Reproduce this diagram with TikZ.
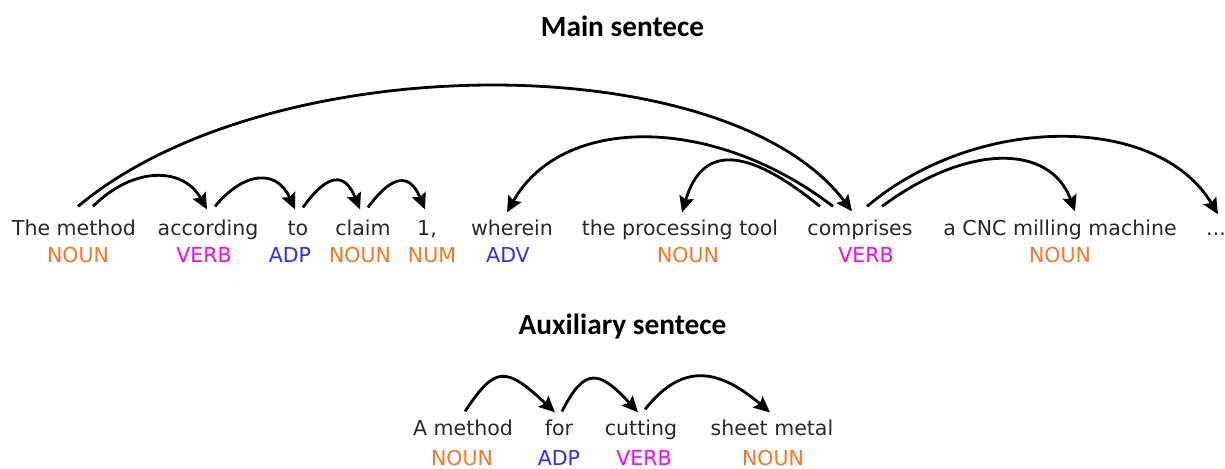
\documentclass[tikz,border=0pt]{standalone}
\usepackage{fontspec}
\setmainfont{DejaVu Sans}
\newfontfamily\titlefont{Carlito}
\usepackage{tikz}
\usetikzlibrary{calc}
\usetikzlibrary{arrows.meta}

\definecolor{wordgray}{RGB}{40,40,40}
\definecolor{nouncol}{RGB}{255,115,35}
\definecolor{verbcol}{RGB}{255,0,255}
\definecolor{advcol}{RGB}{45,45,255}

\begin{document}
\begin{tikzpicture}[x=0.75pt, y=0.75pt,
  word/.style={font=\fontsize{15.4}{18}\selectfont, text=wordgray, anchor=base, inner sep=0pt, text height=11.5pt, text depth=3pt},
  tag/.style={font=\fontsize{15.4}{18}\selectfont, anchor=base, inner sep=0pt},
  title/.style={font=\titlefont\bfseries\fontsize{22}{26}\selectfont, anchor=base, inner sep=0pt},
  dep/.style={line width=2.1pt, -{Stealth[length=12pt, width=11pt, inset=2pt]}}]

\useasboundingbox (0, 0) rectangle (1225, 468);

\node[title] (maintitle) at (622.5, 431.5) {Main sentece};
\node[title] (auxtitle) at (622.5, 133) {Auxiliary sentece};

\node[word] (method) at (74, 232) {The method};
\node[word] (according) at (208, 232) {according};
\node[word] (toword) at (298, 232) {to};
\node[word] (claim) at (363, 232) {claim};
\node[word] (one) at (427, 232) {1,};
\node[word] (wherein) at (512, 232) {wherein};
\node[word] (tool) at (680, 232) {the processing tool};
\node[word] (comprises) at (860, 232) {comprises};
\node[word] (machine) at (1060, 232) {a CNC milling machine};
\node[word] (dots) at (1216, 232) {...};

\node[tag, text=nouncol] (method-pos) at (78, 205) {NOUN};
\node[tag, text=verbcol] (according-pos) at (204, 205) {VERB};
\node[tag, text=advcol] (toword-pos) at (290, 205) {ADP};
\node[tag, text=nouncol] (claim-pos) at (360, 205) {NOUN};
\node[tag, text=nouncol] (one-pos) at (432, 205) {NUM};
\node[tag, text=advcol] (wherein-pos) at (508, 205) {ADV};
\node[tag, text=nouncol] (tool-pos) at (688, 205) {NOUN};
\node[tag, text=verbcol] (comprises-pos) at (866, 205) {VERB};
\node[tag, text=nouncol] (machine-pos) at (1060, 205) {NOUN};

\draw[dep] ($(method.north)+(4,14)$) .. controls +(192,161) and +(-125,166) .. ($(comprises.north)+(-8,9)$);
\draw[dep] ($(method.north)+(19,14)$) .. controls +(40,40) and +(-24,43) .. ($(according.north)+(-1,11)$);
\draw[dep] ($(according.north)+(7,14)$) .. controls +(30,36) and +(-18,40) .. ($(toword.north)+(-3,11)$);
\draw[dep] ($(toword.north)+(5,13)$) .. controls +(25,35) and +(-15,37) .. ($(claim.north)+(-3,11)$);
\draw[dep] ($(claim.north)+(5,13)$) .. controls +(25,34) and +(-15,36) .. ($(one.north)+(-2,11)$);
\draw[dep] ($(comprises.north)+(-27,14)$) .. controls +(-120,92) and +(55,98) .. ($(wherein.north)+(-5,8)$);
\draw[dep] ($(comprises.north)+(-40,14)$) .. controls +(-75,61) and +(20,67) .. ($(tool.north)+(2,8)$);
\draw[dep] ($(comprises.north)+(22,14)$) .. controls +(85,63) and +(-25,68) .. ($(machine.north)+(15,9)$);
\draw[dep] ($(comprises.north)+(7,14)$) .. controls +(110,93) and +(-60,101) .. ($(dots.north)+(2,6)$);

\node[word] (amethod) at (463, 33) {A method};
\node[word] (for) at (559, 33) {for};
\node[word] (cutting) at (641, 33) {cutting};
\node[word] (sheet) at (772, 33) {sheet metal};

\node[tag, text=nouncol] (amethod-pos) at (462, 3) {NOUN};
\node[tag, text=advcol] (for-pos) at (559, 3) {ADP};
\node[tag, text=verbcol] (cutting-pos) at (644, 3) {VERB};
\node[tag, text=nouncol] (sheet-pos) at (773, 3) {NOUN};

\draw[dep] ($(amethod.north)+(2,8)$) .. controls +(30,45) and +(-50,47) .. ($(for.north)+(-4,7)$);
\draw[dep] ($(for.north)+(3,8)$) .. controls +(22,43) and +(-40,44) .. ($(cutting.north)+(-3,7)$);
\draw[dep] ($(cutting.north)+(4,10)$) .. controls +(35,44) and +(-55,47) .. ($(sheet.north)+(-2,7)$);

\end{tikzpicture}
\end{document}
